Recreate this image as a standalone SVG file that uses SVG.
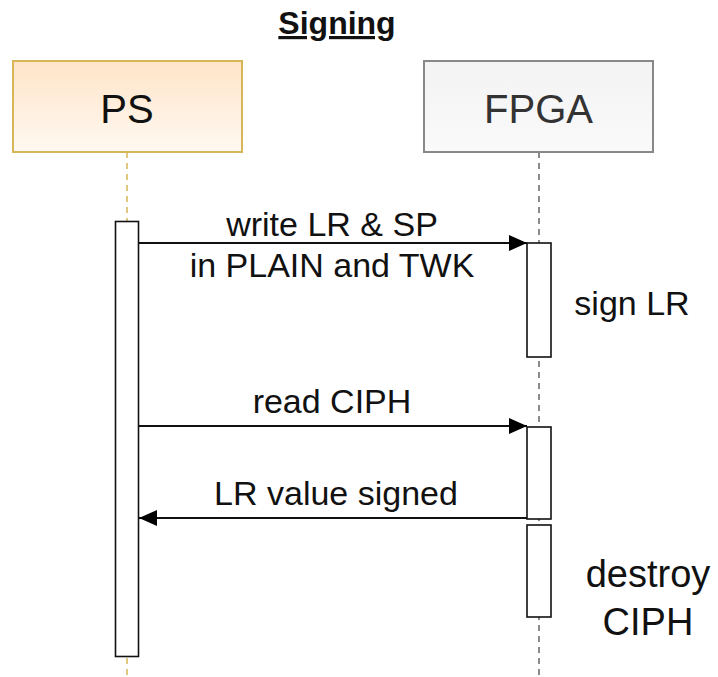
<svg xmlns="http://www.w3.org/2000/svg" width="718" height="677" viewBox="0 0 718 677">
<defs>
<linearGradient id="gPS" x1="0" y1="0" x2="0" y2="1">
<stop offset="0" stop-color="#ffe4c8"/>
<stop offset="1" stop-color="#fff9f2"/>
</linearGradient>
<linearGradient id="gFP" x1="0" y1="0" x2="0" y2="1">
<stop offset="0" stop-color="#f3f3f3"/>
<stop offset="1" stop-color="#fafafa"/>
</linearGradient>
<marker id="ah" viewBox="0 0 18 16" refX="18" refY="8" markerWidth="18" markerHeight="16" markerUnits="userSpaceOnUse" orient="auto">
<path d="M0,0 L18,8 L0,16 Z" fill="#000"/>
</marker>
</defs>
<style>
text{font-family:"Liberation Sans",Arial,sans-serif;fill:#111}
.big{font-size:40px}
.lbl{font-size:34px}
.act{fill:#fff;stroke:#111;stroke-width:1.6}
.msg{stroke:#111;stroke-width:1.8;fill:none}
</style>
<text x="337" y="34" text-anchor="middle" style="font-size:32px;font-weight:bold;text-decoration:underline">Signing</text>
<g id="PS">
<line x1="127" y1="152" x2="127" y2="677" stroke="#d6b656" stroke-width="1.5" stroke-dasharray="6 5"/>
<rect x="13" y="61" width="229" height="91" fill="url(#gPS)" stroke="#d6b656" stroke-width="2"/>
<text class="big" x="127" y="123" text-anchor="middle">PS</text>
<rect class="act" x="115.5" y="221.5" width="23" height="435"/>
</g>
<g id="FPGA">
<line x1="539" y1="152" x2="539" y2="677" stroke="#666" stroke-width="1.5" stroke-dasharray="6 5"/>
<rect x="424" y="61" width="229" height="91" fill="url(#gFP)" stroke="#888" stroke-width="2"/>
<text class="big" x="538.5" y="123" text-anchor="middle" style="fill:#333">FPGA</text>
<rect class="act" x="527" y="243" width="24" height="114"/>
<rect class="act" x="527" y="427" width="24" height="92"/>
<rect class="act" x="527" y="525" width="24" height="92"/>
<text class="lbl" x="632" y="315" text-anchor="middle">sign LR</text>
<text class="big" x="648" y="587" text-anchor="middle" style="font-size:38px">destroy</text>
<text class="big" x="648" y="635" text-anchor="middle" style="font-size:38px">CIPH</text>
</g>
<g id="connectors">
<line class="msg" x1="138.5" y1="243" x2="527" y2="243" marker-end="url(#ah)"/>
<text class="lbl" x="332" y="236" text-anchor="middle">write LR &amp; SP</text>
<text class="lbl" x="332" y="277" text-anchor="middle">in PLAIN and TWK</text>
<line class="msg" x1="138.5" y1="426" x2="527" y2="426" marker-end="url(#ah)"/>
<text class="lbl" x="332" y="413" text-anchor="middle">read CIPH</text>
<line class="msg" x1="527" y1="518" x2="139" y2="518" marker-end="url(#ah)"/>
<text class="lbl" x="336" y="505" text-anchor="middle">LR value signed</text>
</g>
</svg>
